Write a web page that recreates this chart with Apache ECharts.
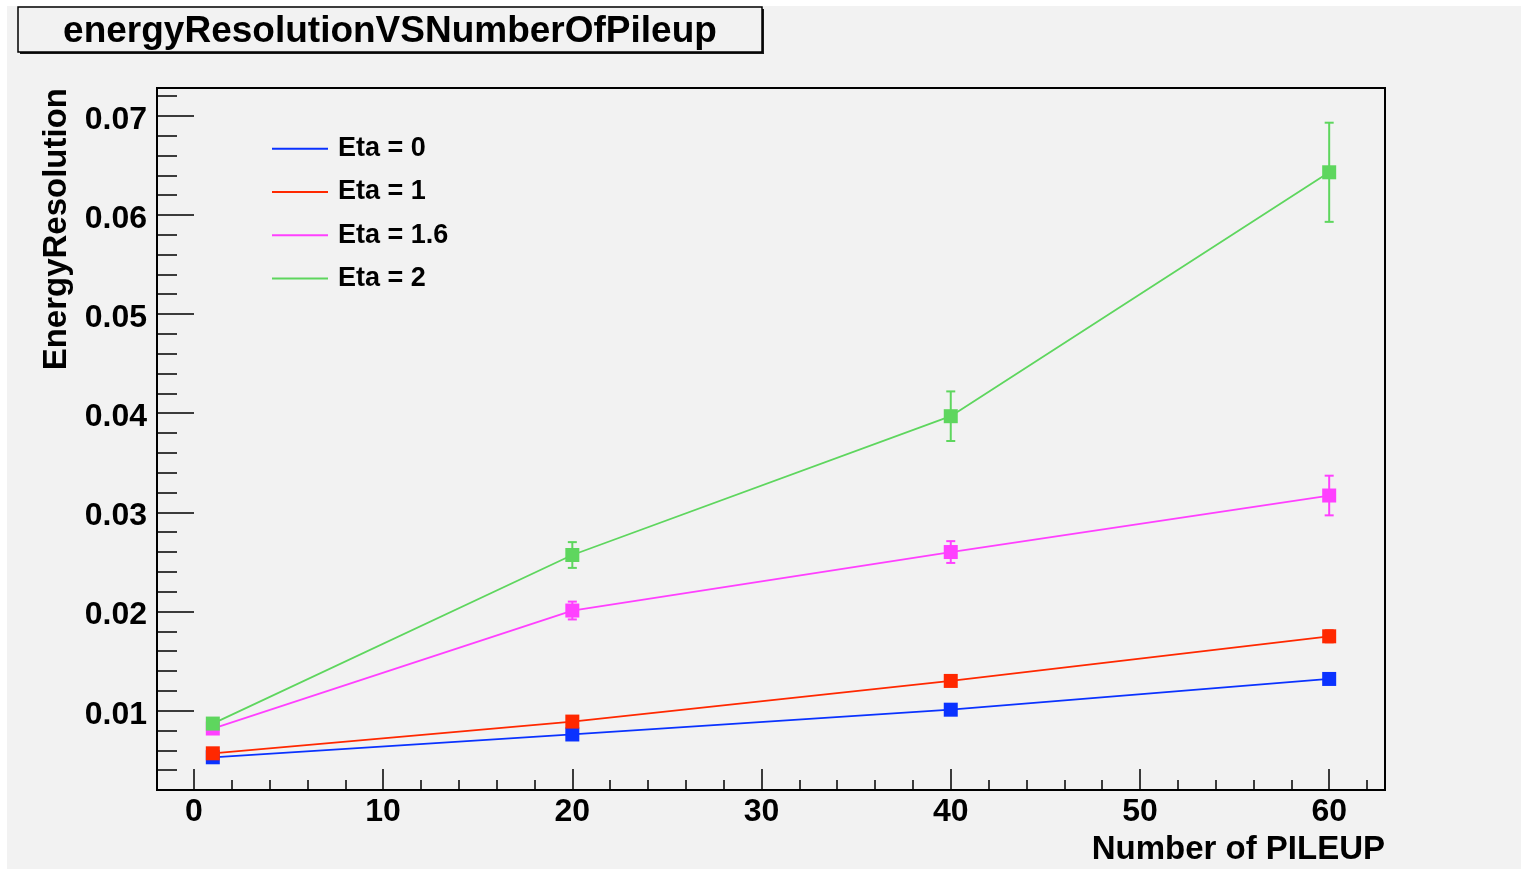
<!DOCTYPE html>
<html>
<head>
<meta charset="utf-8">
<title>energyResolutionVSNumberOfPileup</title>
<script src="https://cdn.jsdelivr.net/npm/echarts@6/dist/echarts.min.js"></script>
<style>
  html, body { margin: 0; padding: 0; background: #ffffff; }
  #page { position: relative; width: 1521px; height: 871px; overflow: hidden; }
  #pad { position: absolute; left: 7px; top: 6px; width: 1514px; height: 863px; background: #f2f2f2; }
  #chart { position: absolute; left: 0; top: 0; width: 1521px; height: 871px; }
</style>
</head>
<body>
<div id="page">
  <div id="pad"></div>
  <div id="chart"></div>
</div>
<script>
// Number of pileup events at which the resolution was measured
const pileup = [1, 20, 40, 60];

// Energy resolution per pseudorapidity slice, with statistical errors
const seriesNames = ['Eta = 0', 'Eta = 1', 'Eta = 1.6', 'Eta = 2'];
const resEta0  = [0.0053, 0.0076, 0.0101, 0.0132];
const errEta0  = [0.0003, 0.0003, 0.0004, 0.0005];
const resEta1  = [0.0057, 0.0089, 0.0130, 0.0175];
const errEta1  = [0.0003, 0.0004, 0.0005, 0.0006];
const resEta16 = [0.0082, 0.0201, 0.0260, 0.0317];
const errEta16 = [0.0004, 0.0009, 0.0011, 0.0020];
const resEta2  = [0.0087, 0.0257, 0.0397, 0.0643];
const errEta2  = [0.0005, 0.0013, 0.0025, 0.0050];

// Axis ticks
const xMajorTicks = [0, 10, 20, 30, 40, 50, 60];
const xMinorTicks = [2, 4, 6, 8, 12, 14, 16, 18, 22, 24, 26, 28, 32, 34, 36, 38,
                     42, 44, 46, 48, 52, 54, 56, 58, 62];
const yMajorTicks = [0.01, 0.02, 0.03, 0.04, 0.05, 0.06, 0.07];
const yMinorTicks = [0.004, 0.006, 0.008, 0.012, 0.014, 0.016, 0.018,
                     0.022, 0.024, 0.026, 0.028, 0.032, 0.034, 0.036, 0.038,
                     0.042, 0.044, 0.046, 0.048, 0.052, 0.054, 0.056, 0.058,
                     0.062, 0.064, 0.066, 0.068, 0.072];

const colors = ['#0a32ff', '#ff2800', '#ff40ff', '#5ed65e'];
const values = [resEta0, resEta1, resEta16, resEta2];
const errors = [errEta0, errEta1, errEta16, errEta2];

const FONT = '"Liberation Sans", Arial, Helvetica, sans-serif';
const X_MIN = -1.95, X_MAX = 62.95;
const Y_MIN = 0.002, Y_MAX = 0.0728;

function errorBarItem(params, api) {
  const x = api.value(0), y = api.value(1), e = api.value(2);
  const top = api.coord([x, y + e]);
  const bot = api.coord([x, y - e]);
  const half = 4.5;
  const style = { stroke: api.visual('color'), lineWidth: 2 };
  return {
    type: 'group',
    children: [
      { type: 'line', shape: { x1: top[0], y1: top[1], x2: bot[0], y2: bot[1] }, style: style },
      { type: 'line', shape: { x1: top[0] - half, y1: top[1], x2: top[0] + half, y2: top[1] }, style: style },
      { type: 'line', shape: { x1: bot[0] - half, y1: bot[1], x2: bot[0] + half, y2: bot[1] }, style: style }
    ]
  };
}

const series = [];
values.forEach(function (vals, i) {
  series.push({
    name: seriesNames[i] + ' errors',
    type: 'custom',
    xAxisIndex: 0,
    yAxisIndex: 0,
    renderItem: errorBarItem,
    itemStyle: { color: colors[i] },
    data: pileup.map(function (p, k) { return [p, vals[k], errors[i][k]]; }),
    z: 2 + i * 2,
    silent: true
  });
  series.push({
    name: seriesNames[i],
    type: 'line',
    xAxisIndex: 0,
    yAxisIndex: 0,
    data: pileup.map(function (p, k) { return [p, vals[k]]; }),
    symbol: 'rect',
    symbolSize: 14,
    showSymbol: true,
    itemStyle: { color: colors[i] },
    lineStyle: { color: colors[i], width: 1.8 },
    z: 3 + i * 2,
    silent: true
  });
});

const tickLine = { color: '#000', width: 1.5 };

const option = {
  backgroundColor: 'transparent',
  animation: false,
  grid: {
    left: 157, top: 88, width: 1228, height: 702,
    show: true, borderColor: '#000', borderWidth: 2, backgroundColor: 'transparent'
  },
  xAxis: [
    {
      type: 'value', min: X_MIN, max: X_MAX, position: 'bottom', offset: 0,
      axisLine: { show: false, onZero: false },
      splitLine: { show: false },
      axisTick: { show: true, inside: true, length: 21, customValues: xMajorTicks, lineStyle: tickLine },
      axisLabel: {
        show: true, customValues: xMajorTicks, margin: 6,
        fontFamily: FONT, fontWeight: 'bold', fontSize: 32, color: '#000'
      }
    },
    {
      type: 'value', min: X_MIN, max: X_MAX, position: 'bottom', offset: 0,
      axisLine: { show: false, onZero: false },
      splitLine: { show: false },
      axisTick: { show: true, inside: true, length: 10, customValues: xMinorTicks, lineStyle: tickLine },
      axisLabel: { show: false }
    }
  ],
  yAxis: [
    {
      type: 'value', min: Y_MIN, max: Y_MAX, position: 'left', offset: 0,
      axisLine: { show: false, onZero: false },
      splitLine: { show: false },
      axisTick: { show: true, inside: true, length: 37, customValues: yMajorTicks, lineStyle: tickLine },
      axisLabel: {
        show: true, customValues: yMajorTicks, margin: 10,
        formatter: function (v) { return v.toFixed(2); },
        fontFamily: FONT, fontWeight: 'bold', fontSize: 32, color: '#000',
        verticalAlign: 'top', lineHeight: 8
      }
    },
    {
      type: 'value', min: Y_MIN, max: Y_MAX, position: 'left', offset: 0,
      axisLine: { show: false, onZero: false },
      splitLine: { show: false },
      axisTick: { show: true, inside: true, length: 20, customValues: yMinorTicks, lineStyle: tickLine },
      axisLabel: { show: false }
    }
  ],
  legend: {
    data: seriesNames,
    orient: 'vertical',
    left: 272,
    top: 134,
    padding: 0,
    itemWidth: 56,
    itemHeight: 2,
    itemGap: 14,
    icon: 'rect',
    selectedMode: false,
    textStyle: {
      fontFamily: FONT, fontWeight: 'bold', fontSize: 27, color: '#000',
      lineHeight: 29.3, padding: [0, 0, 0, 5]
    }
  },
  graphic: [
    {
      type: 'rect', z: 10,
      shape: { x: 20, y: 9, width: 744, height: 45 },
      style: { fill: '#1a1a1a' }
    },
    {
      type: 'rect', z: 11,
      shape: { x: 18, y: 7, width: 744, height: 45 },
      style: { fill: '#f2f2f2', stroke: '#000', lineWidth: 1.5 }
    },
    {
      type: 'text', z: 12, x: 390, y: 32,
      style: {
        text: 'energyResolutionVSNumberOfPileup',
        font: 'bold 37px ' + FONT, fill: '#000', align: 'center', verticalAlign: 'middle'
      }
    },
    {
      type: 'text', z: 12, x: 57, y: 88, rotation: Math.PI / 2,
      style: {
        text: 'EnergyResolution',
        font: 'bold 33px ' + FONT, fill: '#000', align: 'right', verticalAlign: 'middle'
      }
    },
    {
      type: 'text', z: 12, x: 1385, y: 850,
      style: {
        text: 'Number of PILEUP',
        font: 'bold 33px ' + FONT, fill: '#000', align: 'right', verticalAlign: 'middle'
      }
    }
  ],
  series: series
};

const chart = echarts.init(document.getElementById('chart'), null, { renderer: 'canvas' });
chart.setOption(option);
</script>
</body>
</html>
